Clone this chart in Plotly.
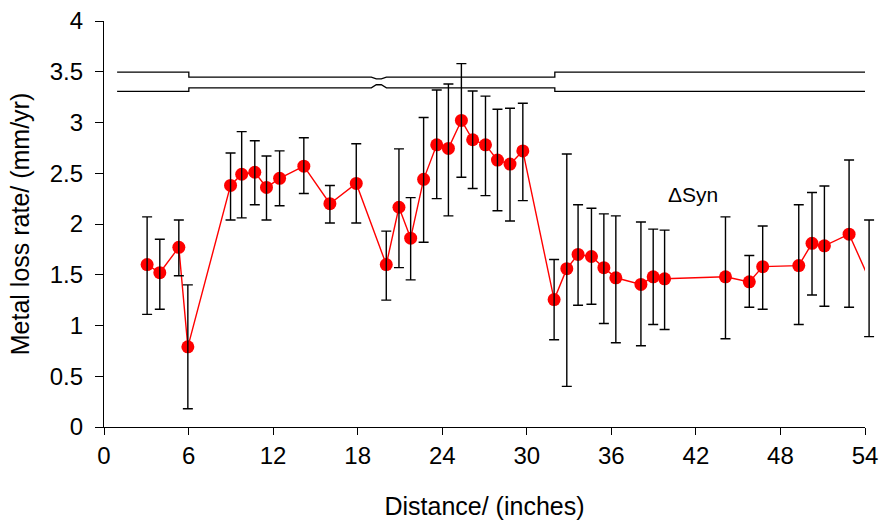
import plotly.graph_objects as go

# Corrosion profile along the pipe: mean metal loss rate with min/max bounds
distance = [3.06, 3.96, 5.31, 5.95, 8.98, 9.77, 10.70, 11.53, 12.46, 14.18,
            16.03, 17.90, 20.03, 20.93, 21.76, 22.68, 23.61, 24.44, 25.36, 26.16,
            27.07, 27.92, 28.81, 29.72, 31.94, 32.84, 33.64, 34.59, 35.47, 36.32,
            38.10, 38.97, 39.78, 44.10, 45.79, 46.74, 49.30, 50.24, 51.12, 52.87,
            54.29]
rate = [1.60, 1.52, 1.77, 0.79, 2.38, 2.49, 2.51, 2.36, 2.45, 2.57,
        2.20, 2.40, 1.60, 2.165, 1.86, 2.44, 2.78, 2.745, 3.02, 2.83,
        2.78, 2.63, 2.59, 2.72, 1.255, 1.56, 1.70, 1.68, 1.57, 1.47,
        1.405, 1.48, 1.46, 1.48, 1.43, 1.58, 1.59, 1.81, 1.785, 1.90,
        1.46]
rate_hi = [2.07, 1.85, 2.04, 1.40, 2.70, 2.91, 2.82, 2.67, 2.72, 2.85,
           2.38, 2.79, 1.93, 2.74, 2.26, 3.05, 3.32, 3.38, 3.58, 3.31,
           3.26, 3.13, 3.14, 3.19, 1.65, 2.69, 2.19, 2.155, 2.10, 2.08,
           2.02, 1.95, 1.94, 2.07, 1.69, 1.98, 2.19, 2.31, 2.375, 2.63,
           2.04]
rate_lo = [1.11, 1.16, 1.49, 0.18, 2.04, 2.06, 2.19, 2.04, 2.18, 2.30,
           2.01, 2.01, 1.25, 1.57, 1.45, 1.82, 2.25, 2.08, 2.46, 2.35,
           2.28, 2.13, 2.03, 2.23, 0.86, 0.40, 1.20, 1.21, 1.02, 0.83,
           0.80, 1.01, 0.96, 0.87, 1.18, 1.16, 1.01, 1.30, 1.19, 1.18,
           0.89]

# Pipe wall outline (schematic) drawn above the data
wall_upper_x = [0.93, 6.02, 6.02, 18.97, 19.32, 19.68, 20.04, 31.99, 31.99, 54.0]
wall_upper_y = [3.496, 3.496, 3.447, 3.447, 3.430, 3.430, 3.447, 3.447, 3.496, 3.496]
wall_lower_x = [0.93, 6.02, 6.02, 18.97, 19.32, 19.68, 20.04, 31.99, 31.99, 54.0]
wall_lower_y = [3.306, 3.306, 3.342, 3.342, 3.372, 3.372, 3.342, 3.342, 3.306, 3.306]

x_ticks = [0, 6, 12, 18, 24, 30, 36, 42, 48, 54]
y_ticks = [0, 0.5, 1, 1.5, 2, 2.5, 3, 3.5, 4]
X_MAX = 54

err_plus = [h - r for h, r in zip(rate_hi, rate)]
err_minus = [r - l for r, l in zip(rate, rate_lo)]

FONT = "Liberation Sans, Arial, sans-serif"

W, H = 883, 523
M_L, M_R, M_T, M_B = 104, 8, 21, 96
AXIS_PX = 761                      # length of the visible 0..54 axis
area_px = W - M_L - M_R            # full drawing area width
x_dom_end = AXIS_PX / area_px
x2_max = X_MAX * area_px / AXIS_PX  # same scale, wider clip region

fig = go.Figure()

for wx, wy in ((wall_upper_x, wall_upper_y), (wall_lower_x, wall_lower_y)):
    fig.add_trace(go.Scatter(x=wx, y=wy, mode="lines",
                             line=dict(color="black", width=1.3),
                             hoverinfo="skip", showlegend=False))

# error bars on a hidden twin x-axis so the right-most bar is not cut off
fig.add_trace(go.Scatter(
    x=distance, y=rate, mode="markers", xaxis="x2", yaxis="y",
    marker=dict(size=2, color="rgba(0,0,0,0)"),
    error_y=dict(type="data", symmetric=False, array=err_plus,
                 arrayminus=err_minus, color="black", thickness=1.4, width=5),
    showlegend=False, hoverinfo="skip"))

# mean rate line with markers
fig.add_trace(go.Scatter(
    x=distance, y=rate, mode="lines+markers",
    line=dict(color="#ff0000", width=1.4),
    marker=dict(size=[13 if d <= X_MAX else 0 for d in distance],
                color="#ff0000", opacity=1, line=dict(width=0)),
    cliponaxis=True, showlegend=False))

fig.add_annotation(x=41.82, y=2.29, text="\u0394Syn", showarrow=False,
                   font=dict(family=FONT, size=21, color="black"),
                   xanchor="center", yanchor="middle")

fig.update_layout(
    width=W, height=H,
    template="none",
    margin=dict(l=M_L, r=M_R, t=M_T, b=M_B, pad=0),
    paper_bgcolor="white", plot_bgcolor="rgba(0,0,0,0)",
    font=dict(family=FONT, color="black"),
    showlegend=False,
    xaxis=dict(domain=[0, x_dom_end], range=[0, X_MAX], tickvals=x_ticks,
               ticktext=[str(t) for t in x_ticks], automargin=False,
               showgrid=False, zeroline=False, showline=True, linecolor="black",
               linewidth=1.2, ticks="outside", ticklen=7, tickwidth=1.2,
               tickcolor="black", tickfont=dict(size=24, family=FONT),
               title=dict(text="Distance/ (inches)", font=dict(size=25, family=FONT),
                          standoff=29)),
    xaxis2=dict(domain=[0, 1], range=[0, x2_max], anchor="y",
                visible=False, showgrid=False, zeroline=False, automargin=False),
    yaxis=dict(range=[0, 4], tickvals=y_ticks, ticktext=[f"{t:g}" for t in y_ticks],
               automargin=False, anchor="x",
               showgrid=False, zeroline=False, showline=True, linecolor="black",
               linewidth=1.2, ticks="outside", ticklen=8, tickwidth=1.2,
               tickcolor="black", tickfont=dict(size=24, family=FONT),
               ticklabelstandoff=7,
               title=dict(text="Metal loss rate/ (mm/yr)", font=dict(size=25, family=FONT),
                          standoff=12)),
)

fig.write_html("out.html")
